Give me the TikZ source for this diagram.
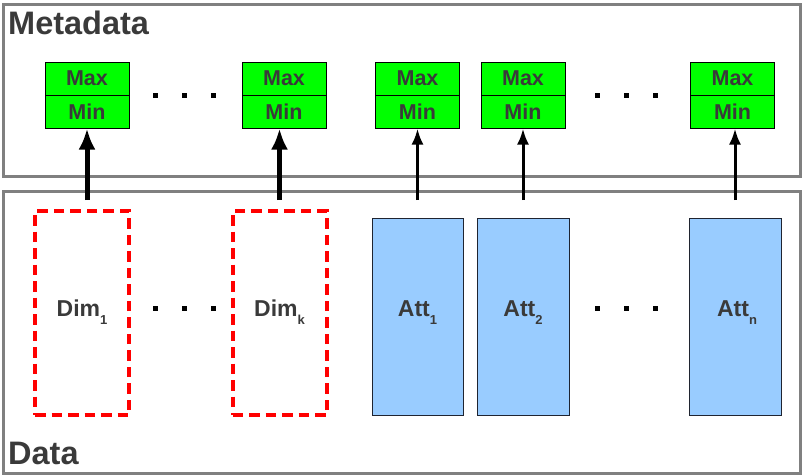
\documentclass[tikz,border=0pt]{standalone}
\usepackage{fontspec}
\setmainfont{Liberation Sans}
\usetikzlibrary{arrows.meta}
\definecolor{txtgray}{HTML}{3A3A3A}
\definecolor{framegray}{HTML}{808080}
\definecolor{mmgreen}{HTML}{00FF00}
\definecolor{attblue}{HTML}{99CCFF}
\definecolor{attborder}{HTML}{1F2430}
\newcommand{\mysub}[1]{\raisebox{-8pt}{\fontsize{13}{13}\selectfont #1}}
\tikzset{
  frame/.style={draw=framegray, line width=3pt},
  title/.style={font=\fontsize{32.5}{32.5}\selectfont\bfseries, text=txtgray, inner sep=0pt, anchor=base west},
  mmcell/.style={draw=black, line width=1pt, fill=mmgreen, minimum width=84pt, minimum height=33pt, inner sep=0pt, font=\fontsize{21.5}{21.5}\selectfont\bfseries, text=txtgray},
  dimbox/.style={draw=red, line width=4pt, dash pattern=on 10.5pt off 6pt, minimum width=94pt, minimum height=204pt, inner sep=0pt},
  attbox/.style={draw=attborder, line width=1pt, fill=attblue, minimum height=197pt, inner sep=0pt},
  boxlabel/.style={font=\fontsize{23}{23}\selectfont\bfseries, text=txtgray, inner sep=0pt, anchor=base},
  thickarrow/.style={line width=5pt, -{Latex[length=21pt,width=17pt]}},
  thinarrow/.style={line width=3pt, -{Latex[length=16pt,width=12pt]}},
  dotmark/.style={fill=black, rectangle, minimum size=5pt, inner sep=0pt}
}
\begin{document}
\begin{tikzpicture}[x=1pt, y=-1pt]
\useasboundingbox (0,0) rectangle (803,475);
% frames
\draw[frame] (3,4) rectangle (800,176);
\draw[frame] (3,191) rectangle (800,473);
\node[title] (metatitle) at (8,34) {Metadata};
\node[title] (datatitle) at (8,464) {Data};
% metadata cells
\foreach \n/\cx in {m1/87, m2/284, m3/417.5, m4/523, m5/732.5}{
  \node[mmcell] (\n max) at (\cx,78.5) {Max};
  \node[mmcell] (\n min) at (\cx,111.5) {Min};
}
% data boxes
\node[dimbox] (dim1) at (82,313) {};
\node[dimbox] (dimk) at (279.5,313) {};
\node[attbox, minimum width=91pt] (att1) at (417.5,316.5) {};
\node[attbox, minimum width=92pt] (att2) at (523,316.5) {};
\node[attbox, minimum width=92pt] (attn) at (735,316.5) {};
\node[boxlabel] (l1) at (82,316) {Dim\mysub{1}};
\node[boxlabel] (l2) at (279.5,316) {Dim\mysub{k}};
\node[boxlabel] (l3) at (417.5,316) {Att\mysub{1}};
\node[boxlabel] (l4) at (523,316) {Att\mysub{2}};
\node[boxlabel] (l5) at (737,316) {Att\mysub{n}};
% arrow start points
\coordinate (s1) at (87,200);
\coordinate (s2) at (279.5,200);
\coordinate (s3) at (417.5,200);
\coordinate (s4) at (523,200);
\coordinate (s5) at (735,200);
\draw[thickarrow] (s1) -- (m1min.south);
\draw[thickarrow] (s2) -- (s2 |- m2min.south);
\draw[thinarrow] (s3) -- (m3min.south);
\draw[thinarrow] (s4) -- (m4min.south);
\draw[thinarrow] (s5) -- (s5 |- m5min.south);
% dots
\foreach \x [count=\i] in {155,184,213}{
  \node[dotmark] (dua\i) at (\x,95) {};
  \node[dotmark] (dla\i) at (\x,308) {};
}
\foreach \x [count=\i] in {597,626,655}{
  \node[dotmark] (dub\i) at (\x,95) {};
  \node[dotmark] (dlb\i) at (\x,308) {};
}
\end{tikzpicture}
\end{document}
